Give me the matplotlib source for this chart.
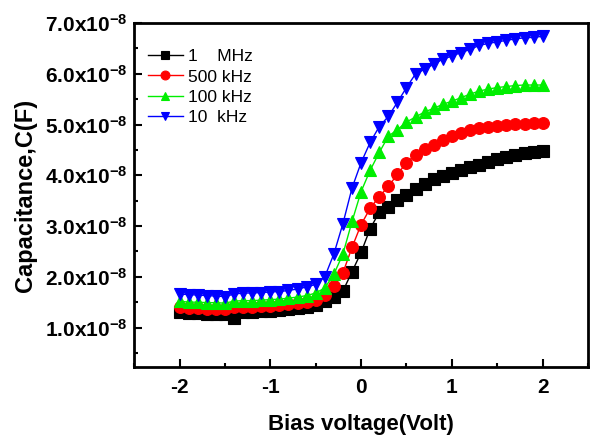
import numpy as np
import matplotlib
matplotlib.use('Agg')
import matplotlib.pyplot as plt
from matplotlib.ticker import FuncFormatter, MultipleLocator

plt.rcParams['font.family'] = 'Liberation Sans'
plt.rcParams['mathtext.fontset'] = 'custom'
plt.rcParams['mathtext.bf'] = 'Liberation Sans:bold'
plt.rcParams['mathtext.rm'] = 'Liberation Sans:bold'
plt.rcParams['mathtext.default'] = 'bf'

bias = np.round(np.arange(-2.0, 2.01, 0.1), 1)

# capacitance in units of 1e-8 F
c_1mhz = [1.30, 1.28, 1.28, 1.27, 1.27, 1.26, 1.18, 1.30, 1.31, 1.32, 1.33,
          1.34, 1.36, 1.38, 1.40, 1.44, 1.52, 1.60, 1.72, 2.10, 2.48,
          2.95, 3.27, 3.37, 3.52, 3.62, 3.74, 3.83, 3.92, 3.98, 4.05,
          4.10, 4.16, 4.21, 4.27, 4.32, 4.37, 4.41, 4.44, 4.46, 4.47]
c_500k = [1.40, 1.38, 1.38, 1.37, 1.37, 1.36, 1.40, 1.41, 1.41, 1.42, 1.43,
          1.44, 1.46, 1.48, 1.50, 1.55, 1.65, 1.82, 2.08, 2.58, 3.03,
          3.35, 3.58, 3.78, 4.02, 4.25, 4.40, 4.51, 4.60, 4.70, 4.77,
          4.84, 4.89, 4.93, 4.96, 4.98, 5.00, 5.01, 5.02, 5.03, 5.03]
c_100k = [1.52, 1.50, 1.50, 1.49, 1.49, 1.48, 1.52, 1.53, 1.53, 1.54, 1.55,
          1.56, 1.58, 1.60, 1.63, 1.68, 1.78, 2.05, 2.45, 3.09, 3.68,
          4.10, 4.45, 4.77, 4.90, 5.05, 5.15, 5.25, 5.32, 5.40, 5.46,
          5.53, 5.60, 5.66, 5.70, 5.73, 5.75, 5.77, 5.78, 5.78, 5.78]
c_10k = [1.66, 1.65, 1.64, 1.63, 1.62, 1.61, 1.66, 1.68, 1.68, 1.69, 1.70,
         1.71, 1.73, 1.76, 1.80, 1.85, 2.00, 2.45, 3.05, 3.75, 4.25,
         4.65, 4.96, 5.16, 5.44, 5.73, 6.00, 6.09, 6.19, 6.29, 6.35,
         6.42, 6.48, 6.56, 6.60, 6.63, 6.66, 6.69, 6.71, 6.72, 6.74]

labels = ['1    MHz', '500 kHz', '100 kHz', '10  kHz']
colors = ['black', 'red', '#00ee00', 'blue']
markers = ['s', 'o', '^', 'v']
series = [c_1mhz, c_500k, c_100k, c_10k]

fig = plt.figure(figsize=(5.91, 4.36), dpi=100)
ax = fig.add_axes([0.227, 0.158, 0.768, 0.789])

for ys, lab, col, m in zip(series, labels, colors, markers):
    ax.plot(bias, np.array(ys) * 1e-8, color=col, marker=m, markersize=8.5,
            markeredgewidth=0.8, linewidth=1, label=lab)

ax.set_xlim(-2.5, 2.5)
ax.set_ylim(0.22e-8, 7.0e-8)
ax.xaxis.set_major_locator(MultipleLocator(1))
ax.xaxis.set_minor_locator(MultipleLocator(0.5))
ax.yaxis.set_major_locator(MultipleLocator(1e-8))
ax.yaxis.set_minor_locator(MultipleLocator(0.5e-8))
ax.yaxis.set_major_formatter(FuncFormatter(
    lambda v, p: f'{v*1e8:.1f}x10$^{{-8}}$'))
ax.xaxis.set_major_formatter(FuncFormatter(lambda v, p: f'{v:.0f}'))

ax.tick_params(which='both', direction='in', width=1.5, top=False, right=False,
               labelsize=15)
ax.tick_params(which='major', length=6)
ax.tick_params(which='minor', length=3)
for lab in ax.get_xticklabels() + ax.get_yticklabels():
    lab.set_fontweight('bold')
ax.tick_params(axis='x', pad=8)
ax.tick_params(axis='y', pad=5)
for s in ax.spines.values():
    s.set_linewidth(2)

ax.set_xlabel('Bias voltage(Volt)', fontsize=16, fontweight='bold', labelpad=12)
ax.set_ylabel('Capacitance,C(F)', fontsize=17, fontweight='bold', labelpad=6)

ax.legend(loc='upper left', frameon=False, fontsize=12.5, handlelength=2.0,
          borderaxespad=0.4, labelspacing=0.3, handletextpad=0.3,
          markerscale=0.75, bbox_to_anchor=(0.0, 0.965))

fig.savefig('out.png', dpi=100)
